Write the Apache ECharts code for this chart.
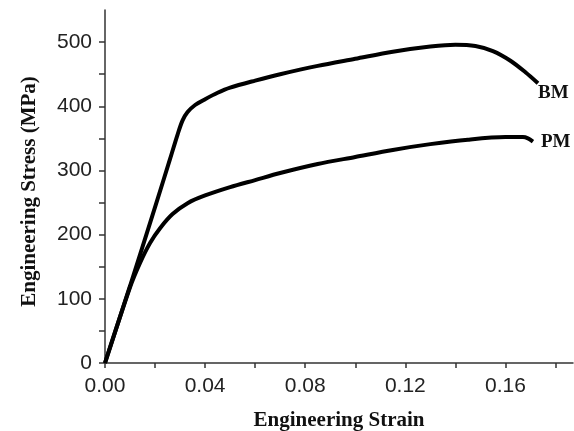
<!DOCTYPE html>
<html>
<head>
<meta charset="utf-8">
<script src="https://cdn.jsdelivr.net/npm/echarts@6/dist/echarts.min.js"></script>
<style>html,body{margin:0;padding:0;background:#fff}#c{width:574px;height:431px}</style>
</head>
<body>
<div id="c"></div>
<script>
var bmStrain = [0, 0.010, 0.020, 0.026, 0.029, 0.031, 0.033, 0.036, 0.040, 0.045, 0.050, 0.060, 0.070, 0.085, 0.100, 0.115, 0.130, 0.140, 0.148, 0.155, 0.162, 0.168, 0.173];
var bmStress = [0, 120, 243, 318, 356, 378, 391, 402, 411, 421, 429, 440, 450, 463, 474, 485, 493, 496, 494, 486, 471, 453, 436];
var pmStrain = [0, 0.010, 0.014, 0.018, 0.022, 0.027, 0.033, 0.040, 0.050, 0.060, 0.070, 0.085, 0.100, 0.115, 0.130, 0.145, 0.160, 0.167, 0.169, 0.171];
var pmStress = [0, 118, 156, 187, 210, 232, 249, 261, 274, 285, 296, 310, 321, 332, 341, 348, 352, 352, 350, 345];
var xTicks = [0, 0.02, 0.04, 0.06, 0.08, 0.10, 0.12, 0.14, 0.16, 0.18];
var xLabels = [0, 0.04, 0.08, 0.12, 0.16];
var yTicks = [0, 50, 100, 150, 200, 250, 300, 350, 400, 450, 500];
var yLabels = [0, 100, 200, 300, 400, 500];

function pairs(xs, ys) { return xs.map(function (x, i) { return [x, ys[i]]; }); }

var chart = echarts.init(document.getElementById('c'));
var serif = '"Liberation Serif","Times New Roman",serif';
var sans = '"Liberation Sans",Arial,sans-serif';
chart.setOption({
  animation: false,
  grid: { left: 105, right: 1, top: 10, bottom: 68, outerBoundsMode: 'none', containLabel: false },
  xAxis: {
    type: 'value', min: 0, max: 0.187,
    name: 'Engineering Strain', nameLocation: 'middle', nameGap: 47,
    nameTextStyle: { fontFamily: serif, fontWeight: 'bold', fontSize: 21, color: '#111' },
    axisLine: { show: true, lineStyle: { color: '#333', width: 1.5 } },
    axisTick: { show: true, length: 5, customValues: xTicks, lineStyle: { color: '#333', width: 1.5 } },
    axisLabel: { customValues: xLabels, fontFamily: sans, fontSize: 21, color: '#222', margin: 13,
      formatter: function (v) { return v.toFixed(2); } },
    splitLine: { show: false }
  },
  yAxis: {
    type: 'value', min: 0, max: 550,
    name: 'Engineering Stress (MPa)', nameLocation: 'middle', nameGap: 65,
    nameTextStyle: { fontFamily: serif, fontWeight: 'bold', fontSize: 21, color: '#111', padding: [0, 10, 0, 0] },
    axisLine: { show: true, lineStyle: { color: '#333', width: 1.5 } },
    axisTick: { show: true, length: 6, customValues: yTicks, lineStyle: { color: '#333', width: 1.5 } },
    axisLabel: { customValues: yLabels, fontFamily: sans, fontSize: 21, color: '#222', margin: 13 },
    splitLine: { show: false }
  },
  series: [
    {
      type: 'line', name: 'BM', data: pairs(bmStrain, bmStress), smooth: 0.3, showSymbol: false,
      lineStyle: { color: '#000', width: 4 },
      endLabel: { show: true, formatter: 'BM', distance: 0, offset: [0, 10],
        fontFamily: serif, fontWeight: 'bold', fontSize: 19, color: '#111' }
    },
    {
      type: 'line', name: 'PM', data: pairs(pmStrain, pmStress), smooth: 0.3, showSymbol: false,
      lineStyle: { color: '#000', width: 4 },
      endLabel: { show: true, formatter: 'PM', distance: 8, offset: [0, 1],
        fontFamily: serif, fontWeight: 'bold', fontSize: 19, color: '#111' }
    }
  ]
});
</script>
</body>
</html>
